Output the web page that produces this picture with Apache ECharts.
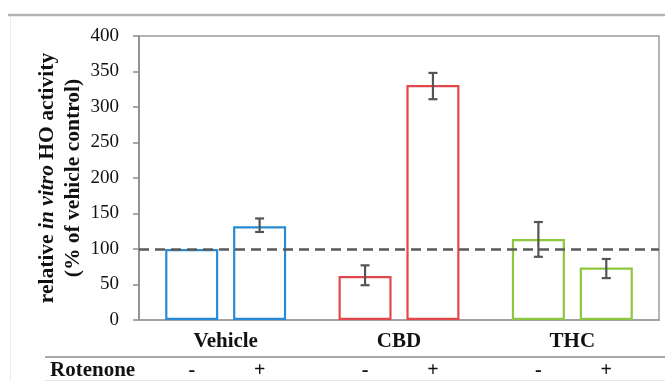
<!DOCTYPE html>
<html><head><meta charset="utf-8">
<script src="https://cdn.jsdelivr.net/npm/echarts@6/dist/echarts.min.js"></script>
<style>html,body{margin:0;padding:0;background:#fff}#c{width:665px;height:381px}</style>
</head><body><div id="c"></div>
<script>
const groups = ['Vehicle', 'CBD', 'THC'];
const minusValues = [100, 62, 114];
const plusValues = [132, 331, 74];
const minusErrLow = [null, 49, 89];
const minusErrHigh = [null, 77, 138];
const plusErrLow = [124, 311, 59];
const plusErrHigh = [143, 348, 86];
const rowTitle = 'Rotenone';
const minusMark = '-';
const plusMark = '+';
const yTicks = [0, 50, 100, 150, 200, 250, 300, 350, 400];
const refLine = 100;
const yTitle = '{b|relative }{i|in vitro}{b| HO activity}\n{b|(% of vehicle control)}';

const colors = ['#2a8ad4', '#e2474b', '#8dc63f'];
const serif = '"Liberation Serif", "DejaVu Serif", serif';
const BARW = 0.306, GAP = 0.28;
const OFF = (BARW + BARW * GAP) / 2;

function errSeries(sign, lows, highs) {
  const data = [];
  lows.forEach((l, i) => { if (l != null) data.push([i, l, highs[i]]); });
  return {
    type: 'custom', z: 5, data: data,
    renderItem: function (params, api) {
      const i = api.value(0);
      const lo = api.coord([i, api.value(1)]);
      const hi = api.coord([i, api.value(2)]);
      const bw = api.size([1, 0])[0];
      const x = lo[0] + sign * bw * OFF;
      const cap = 4.5;
      const st = { stroke: '#555', lineWidth: 2.2 };
      return { type: 'group', children: [
        { type: 'line', shape: { x1: x, y1: lo[1], x2: x, y2: hi[1] }, style: st },
        { type: 'line', shape: { x1: x - cap, y1: lo[1], x2: x + cap, y2: lo[1] }, style: st },
        { type: 'line', shape: { x1: x - cap, y1: hi[1], x2: x + cap, y2: hi[1] }, style: st }
      ]};
    }
  };
}
function markSeries(sign, mark) {
  return {
    type: 'custom', z: 5, clip: false, data: groups.map((g, i) => [i, 0]),
    renderItem: function (params, api) {
      const i = api.value(0);
      const p = api.coord([i, 0]);
      const bw = api.size([1, 0])[0];
      return { type: 'text', style: { text: mark, x: p[0] + sign * bw * OFF, y: p[1] + 51,
        align: 'center', verticalAlign: 'middle', font: 'bold 20px ' + serif, fill: '#111' } };
    }
  };
}
const chart = echarts.init(document.getElementById('c'), null, { renderer: 'canvas' });
chart.setOption({
  animation: false,
  backgroundColor: '#fff',
  grid: { left: 139, right: 6, top: 36, bottom: 61, show: true, borderColor: '#9c9c9c', borderWidth: 1.5 },
  xAxis: {
    type: 'category', data: groups,
    axisLine: { lineStyle: { color: '#9c9c9c', width: 1.5 } },
    axisTick: { show: false },
    axisLabel: { color: '#111', fontFamily: serif, fontWeight: 'bold', fontSize: 21, margin: 11 }
  },
  yAxis: {
    type: 'value', min: yTicks[0], max: yTicks[yTicks.length - 1], interval: 50,
    splitLine: { show: false },
    axisLine: { show: true, lineStyle: { color: '#8a8a8a', width: 1.5 } },
    axisTick: { show: true, length: 6, lineStyle: { color: '#8a8a8a', width: 1.5 } },
    axisLabel: { color: '#111', fontFamily: serif, fontSize: 19, margin: 20 }
  },
  graphic: [
    { type: 'line', shape: { x1: 8, y1: 15, x2: 665, y2: 15 }, style: { stroke: '#b4b4b4', lineWidth: 2.5 } },
    { type: 'line', shape: { x1: 10.5, y1: 16, x2: 10.5, y2: 381 }, style: { stroke: '#ececec', lineWidth: 1 } },
    { type: 'line', shape: { x1: 45, y1: 357, x2: 665, y2: 357 }, style: { stroke: '#a8a8a8', lineWidth: 2 } },
    { type: 'line', shape: { x1: 45, y1: 380.5, x2: 665, y2: 380.5 }, style: { stroke: '#e6e6e6', lineWidth: 1 } },
    { type: 'text', style: { text: rowTitle, x: 50, y: 371, verticalAlign: 'middle', font: 'bold 21px ' + serif, fill: '#111' } },
    { type: 'text', x: 60, y: 178, rotation: Math.PI / 2,
      style: { text: yTitle, align: 'center', verticalAlign: 'middle', fill: '#111',
        rich: {
          b: { fontFamily: serif, fontWeight: 'bold', fontSize: 21.5, fill: '#111', lineHeight: 26 },
          i: { fontFamily: serif, fontWeight: 'bold', fontStyle: 'italic', fontSize: 21.5, fill: '#111', lineHeight: 26 }
        } } }
  ],
  series: [
    {
      type: 'bar', barWidth: (BARW * 100) + '%', barGap: (GAP * 100) + '%',
      data: minusValues.map((v, i) => ({ value: v, itemStyle: { borderColor: colors[i] } })),
      itemStyle: { color: '#fff', borderWidth: 2.2 },
      markLine: { silent: true, symbol: 'none', label: { show: false }, z: 10,
        lineStyle: { color: '#5a5a5a', width: 2.5, type: [10, 6] }, data: [{ yAxis: refLine }] }
    },
    {
      type: 'bar', barWidth: (BARW * 100) + '%', barGap: (GAP * 100) + '%',
      data: plusValues.map((v, i) => ({ value: v, itemStyle: { borderColor: colors[i] } })),
      itemStyle: { color: '#fff', borderWidth: 2.2 }
    },
    errSeries(-1, minusErrLow, minusErrHigh),
    errSeries(1, plusErrLow, plusErrHigh),
    markSeries(-1, minusMark),
    markSeries(1, plusMark)
  ]
});
</script></body></html>
